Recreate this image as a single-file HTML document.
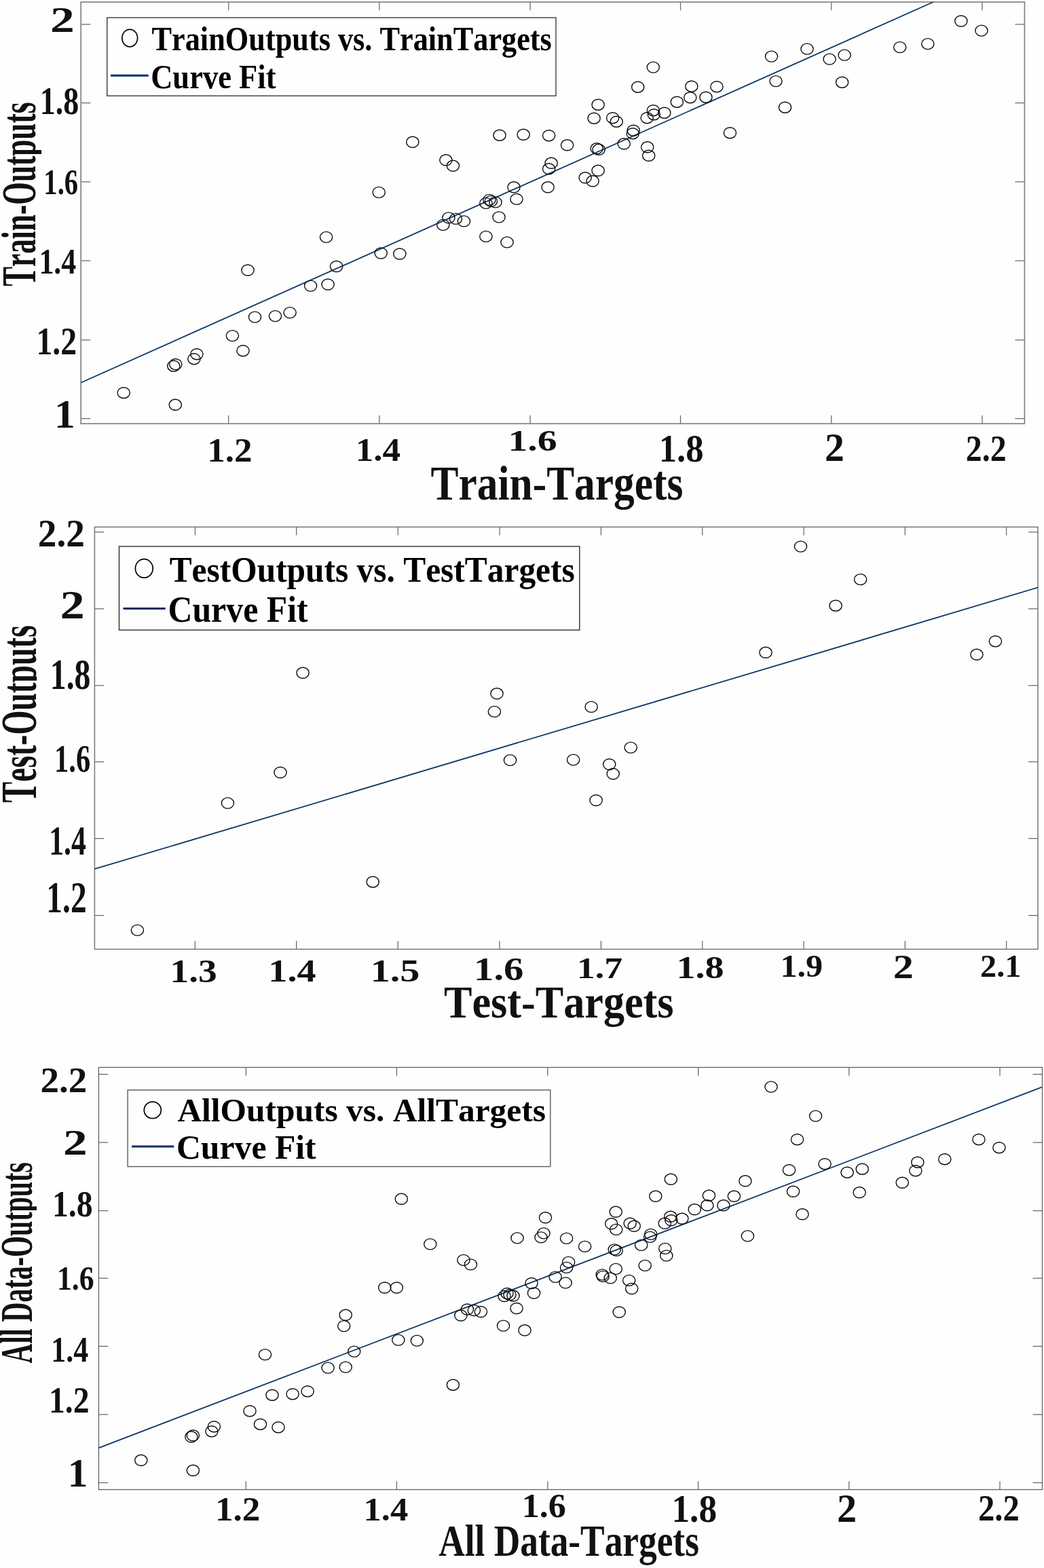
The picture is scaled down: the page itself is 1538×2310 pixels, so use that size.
<!DOCTYPE html>
<html lang="en">
<head>
<meta charset="utf-8">
<title>Regression plots: Train, Test and All Data outputs vs. targets</title>
<style>
html,body{margin:0;padding:0;background:#fefefe;}
body{width:1538px;height:2310px;overflow:hidden;}
svg{display:block;}
text{font-family:"Liberation Serif","Times New Roman",Times,serif;font-weight:bold;font-size:100px;fill:#111;font-kerning:none;font-variant-ligatures:none;}
.ax{fill:none;stroke:#6e6e6e;stroke-width:1.5;}
.tk{fill:none;stroke:#686868;stroke-width:1.25;}
.fit{stroke:#0b3766;stroke-width:1.8;}
.pt ellipse{fill:none;stroke:#0c0c0c;stroke-width:1.4;}
.lg{fill:#fefefe;stroke:#262626;stroke-width:1.4;}
.lc{fill:none;stroke:#000;stroke-width:1.7;}
.ll{stroke:#012d5e;stroke-width:3;}
text.k{fill:#000;}
</style>
</head>
<body>
<svg width="1538" height="2310" viewBox="0 0 1538 2310">
<rect x="0" y="0" width="1538" height="2310" fill="#fefefe"/>
<g class="plot">
<path d="M336.7 624.2V612M336.7 3V15.2M558.9 624.2V612M558.9 3V15.2M781 624.2V612M781 3V15.2M1002.5 624.2V612M1002.5 3V15.2M1224.8 624.2V612M1224.8 3V15.2M1447 624.2V612M1447 3V15.2M119.2 35.8H133.2M1509.4 35.8H1495.4M119.2 151.6H133.2M1509.4 151.6H1495.4M119.2 267.8H133.2M1509.4 267.8H1495.4M119.2 384H133.2M1509.4 384H1495.4M119.2 500.8H133.2M1509.4 500.8H1495.4M119.2 616.5H133.2M1509.4 616.5H1495.4" class="tk"/>
<rect x="119.2" y="3" width="1390.2" height="621.2" class="ax" style="stroke:#7c7c7c;stroke-width:1.6"/>
<line x1="119.2" y1="563.8" x2="1374.8" y2="3" class="fit"/>
<g class="pt">
<ellipse cx="607.8" cy="209.3" rx="9.1" ry="8"/>
<ellipse cx="736" cy="199.2" rx="9.1" ry="8"/>
<ellipse cx="771.1" cy="198.3" rx="9.1" ry="8"/>
<ellipse cx="656.9" cy="235.8" rx="9.1" ry="8"/>
<ellipse cx="667.4" cy="244.3" rx="9.1" ry="8"/>
<ellipse cx="558.2" cy="283.4" rx="9.1" ry="8"/>
<ellipse cx="757" cy="275.8" rx="9.1" ry="8"/>
<ellipse cx="761" cy="293.4" rx="9.1" ry="8"/>
<ellipse cx="715.9" cy="299.4" rx="9.1" ry="8"/>
<ellipse cx="720.9" cy="294.4" rx="9.1" ry="8"/>
<ellipse cx="723.4" cy="296.4" rx="9.1" ry="8"/>
<ellipse cx="729.9" cy="297.9" rx="9.1" ry="8"/>
<ellipse cx="735" cy="319.9" rx="9.1" ry="8"/>
<ellipse cx="660.9" cy="320.9" rx="9.1" ry="8"/>
<ellipse cx="671.4" cy="322.4" rx="9.1" ry="8"/>
<ellipse cx="683.4" cy="325.9" rx="9.1" ry="8"/>
<ellipse cx="652.8" cy="331.4" rx="9.1" ry="8"/>
<ellipse cx="715.9" cy="348.4" rx="9.1" ry="8"/>
<ellipse cx="747" cy="356.9" rx="9.1" ry="8"/>
<ellipse cx="480.6" cy="349.4" rx="9.1" ry="8"/>
<ellipse cx="561.2" cy="373" rx="9.1" ry="8"/>
<ellipse cx="588.8" cy="374" rx="9.1" ry="8"/>
<ellipse cx="495.6" cy="392.5" rx="9.1" ry="8"/>
<ellipse cx="365" cy="398" rx="9.1" ry="8"/>
<ellipse cx="457.6" cy="421.1" rx="9.1" ry="8"/>
<ellipse cx="483.1" cy="419" rx="9.1" ry="8"/>
<ellipse cx="375.5" cy="467.1" rx="9.1" ry="8"/>
<ellipse cx="405.5" cy="465.6" rx="9.1" ry="8"/>
<ellipse cx="427.1" cy="460.6" rx="9.1" ry="8"/>
<ellipse cx="342.4" cy="494.6" rx="9.1" ry="8"/>
<ellipse cx="358" cy="516.7" rx="9.1" ry="8"/>
<ellipse cx="289.9" cy="521.7" rx="9.1" ry="8"/>
<ellipse cx="285.9" cy="528.7" rx="9.1" ry="8"/>
<ellipse cx="258.8" cy="536.7" rx="9.1" ry="8"/>
<ellipse cx="255.8" cy="539.2" rx="9.1" ry="8"/>
<ellipse cx="182.2" cy="578.7" rx="9.1" ry="8"/>
<ellipse cx="258.3" cy="596.3" rx="9.1" ry="8"/>
<ellipse cx="808.6" cy="199.7" rx="9.1" ry="8"/>
<ellipse cx="835.6" cy="213.8" rx="9.1" ry="8"/>
<ellipse cx="881.1" cy="154.2" rx="9.1" ry="8"/>
<ellipse cx="875.1" cy="174.2" rx="9.1" ry="8"/>
<ellipse cx="902.7" cy="173.7" rx="9.1" ry="8"/>
<ellipse cx="908.2" cy="179.2" rx="9.1" ry="8"/>
<ellipse cx="962.3" cy="99.1" rx="9.1" ry="8"/>
<ellipse cx="939.7" cy="128.2" rx="9.1" ry="8"/>
<ellipse cx="962.3" cy="162.7" rx="9.1" ry="8"/>
<ellipse cx="953.2" cy="173.7" rx="9.1" ry="8"/>
<ellipse cx="963.3" cy="168.7" rx="9.1" ry="8"/>
<ellipse cx="978.8" cy="166.2" rx="9.1" ry="8"/>
<ellipse cx="997.3" cy="150.2" rx="9.1" ry="8"/>
<ellipse cx="1016.8" cy="143.7" rx="9.1" ry="8"/>
<ellipse cx="1018.8" cy="127.2" rx="9.1" ry="8"/>
<ellipse cx="1039.9" cy="143.2" rx="9.1" ry="8"/>
<ellipse cx="1055.9" cy="127.7" rx="9.1" ry="8"/>
<ellipse cx="933.2" cy="192.2" rx="9.1" ry="8"/>
<ellipse cx="932.2" cy="196.7" rx="9.1" ry="8"/>
<ellipse cx="919.2" cy="211.8" rx="9.1" ry="8"/>
<ellipse cx="953.7" cy="216.8" rx="9.1" ry="8"/>
<ellipse cx="955.7" cy="229.3" rx="9.1" ry="8"/>
<ellipse cx="879.1" cy="218.8" rx="9.1" ry="8"/>
<ellipse cx="882.1" cy="220.3" rx="9.1" ry="8"/>
<ellipse cx="812.1" cy="240.3" rx="9.1" ry="8"/>
<ellipse cx="808.6" cy="248.8" rx="9.1" ry="8"/>
<ellipse cx="881.1" cy="251.3" rx="9.1" ry="8"/>
<ellipse cx="862.1" cy="261.8" rx="9.1" ry="8"/>
<ellipse cx="873.1" cy="266.8" rx="9.1" ry="8"/>
<ellipse cx="807.1" cy="275.8" rx="9.1" ry="8"/>
<ellipse cx="1075.4" cy="195.7" rx="9.1" ry="8"/>
<ellipse cx="1136.5" cy="83.1" rx="9.1" ry="8"/>
<ellipse cx="1143" cy="119.6" rx="9.1" ry="8"/>
<ellipse cx="1156.5" cy="158.2" rx="9.1" ry="8"/>
<ellipse cx="1189" cy="72.1" rx="9.1" ry="8"/>
<ellipse cx="1222.1" cy="87.1" rx="9.1" ry="8"/>
<ellipse cx="1244.1" cy="81.1" rx="9.1" ry="8"/>
<ellipse cx="1240.6" cy="121.2" rx="9.1" ry="8"/>
<ellipse cx="1325.7" cy="69.6" rx="9.1" ry="8"/>
<ellipse cx="1366.8" cy="64.6" rx="9.1" ry="8"/>
<ellipse cx="1415.8" cy="31" rx="9.1" ry="8"/>
<ellipse cx="1445.9" cy="45.1" rx="9.1" ry="8"/>
</g>
<rect x="157.7" y="26" width="661.3" height="115.2" class="lg" style="stroke:#3c3c3c"/>
<ellipse cx="191.2" cy="56.1" rx="11.4" ry="12.8" class="lc"/>
<line x1="163" y1="111.3" x2="218.7" y2="111.3" class="ll"/>
</g>
<g class="plot">
<path d="M287.4 1398.4V1386.2M287.4 776.4V788.6M436.7 1398.4V1386.2M436.7 776.4V788.6M586.2 1398.4V1386.2M586.2 776.4V788.6M736 1398.4V1386.2M736 776.4V788.6M885.4 1398.4V1386.2M885.4 776.4V788.6M1034.7 1398.4V1386.2M1034.7 776.4V788.6M1184.1 1398.4V1386.2M1184.1 776.4V788.6M1333.3 1398.4V1386.2M1333.3 776.4V788.6M1482.6 1398.4V1386.2M1482.6 776.4V788.6M139.4 783.8H153.4M1529 783.8H1515M139.4 896.8H153.4M1529 896.8H1515M139.4 1009.8H153.4M1529 1009.8H1515M139.4 1122.4H153.4M1529 1122.4H1515M139.4 1235.4H153.4M1529 1235.4H1515M139.4 1348.5H153.4M1529 1348.5H1515" class="tk"/>
<rect x="139.4" y="776.4" width="1389.6" height="622" class="ax" style="stroke:#767676;stroke-width:1.5"/>
<line x1="139.4" y1="1280.2" x2="1529" y2="865.5" class="fit"/>
<g class="pt">
<ellipse cx="446.1" cy="991.3" rx="9.1" ry="8"/>
<ellipse cx="732" cy="1021.8" rx="9.1" ry="8"/>
<ellipse cx="728.4" cy="1048.4" rx="9.1" ry="8"/>
<ellipse cx="751.5" cy="1119.9" rx="9.1" ry="8"/>
<ellipse cx="413" cy="1138" rx="9.1" ry="8"/>
<ellipse cx="1179.5" cy="805.1" rx="9.1" ry="8"/>
<ellipse cx="1267.6" cy="853.6" rx="9.1" ry="8"/>
<ellipse cx="1231.1" cy="892.2" rx="9.1" ry="8"/>
<ellipse cx="1128" cy="961.3" rx="9.1" ry="8"/>
<ellipse cx="1466.4" cy="944.7" rx="9.1" ry="8"/>
<ellipse cx="1438.9" cy="964.3" rx="9.1" ry="8"/>
<ellipse cx="871.1" cy="1041.4" rx="9.1" ry="8"/>
<ellipse cx="929.2" cy="1101.4" rx="9.1" ry="8"/>
<ellipse cx="844.6" cy="1119.4" rx="9.1" ry="8"/>
<ellipse cx="897.7" cy="1126" rx="9.1" ry="8"/>
<ellipse cx="903.2" cy="1140" rx="9.1" ry="8"/>
<ellipse cx="335.4" cy="1183.1" rx="9.1" ry="8"/>
<ellipse cx="549.2" cy="1299.2" rx="9.1" ry="8"/>
<ellipse cx="202.4" cy="1370.4" rx="9.1" ry="8"/>
<ellipse cx="878.1" cy="1179" rx="9.1" ry="8"/>
</g>
<rect x="175.5" y="805" width="678.3" height="123.2" class="lg" style="stroke:#303030"/>
<ellipse cx="212.3" cy="837.4" rx="12.9" ry="13.7" class="lc"/>
<line x1="181.5" y1="896.6" x2="243.7" y2="896.6" class="ll"/>
</g>
<g class="plot">
<path d="M362.3 2194.5V2182.3M362.3 1572.5V1584.7M584.4 2194.5V2182.3M584.4 1572.5V1584.7M806.8 2194.5V2182.3M806.8 1572.5V1584.7M1028.6 2194.5V2182.3M1028.6 1572.5V1584.7M1250.8 2194.5V2182.3M1250.8 1572.5V1584.7M1473 2194.5V2182.3M1473 1572.5V1584.7M145.4 1582.5H159.4M1535.5 1582.5H1521.5M145.4 1683H159.4M1535.5 1683H1521.5M145.4 1783.5H159.4M1535.5 1783.5H1521.5M145.4 1883.2H159.4M1535.5 1883.2H1521.5M145.4 1983.4H159.4M1535.5 1983.4H1521.5M145.4 2083.9H159.4M1535.5 2083.9H1521.5M145.4 2184.3H159.4M1535.5 2184.3H1521.5" class="tk"/>
<rect x="145.4" y="1572.5" width="1390.1" height="622" class="ax" style="stroke:#626262;stroke-width:1.3"/>
<line x1="145.4" y1="2133.1" x2="1535" y2="1601.5" class="fit"/>
<g class="pt">
<ellipse cx="591.3" cy="1766.3" rx="9.1" ry="8"/>
<ellipse cx="633.8" cy="1832.9" rx="9.1" ry="8"/>
<ellipse cx="762" cy="1823.9" rx="9.1" ry="8"/>
<ellipse cx="682.9" cy="1856.4" rx="9.1" ry="8"/>
<ellipse cx="693.4" cy="1862.9" rx="9.1" ry="8"/>
<ellipse cx="566.7" cy="1897" rx="9.1" ry="8"/>
<ellipse cx="584.3" cy="1897" rx="9.1" ry="8"/>
<ellipse cx="743" cy="1909.5" rx="9.1" ry="8"/>
<ellipse cx="747" cy="1905.5" rx="9.1" ry="8"/>
<ellipse cx="751" cy="1907.5" rx="9.1" ry="8"/>
<ellipse cx="756" cy="1909" rx="9.1" ry="8"/>
<ellipse cx="761" cy="1927.5" rx="9.1" ry="8"/>
<ellipse cx="688.4" cy="1929" rx="9.1" ry="8"/>
<ellipse cx="698.4" cy="1930.5" rx="9.1" ry="8"/>
<ellipse cx="708.4" cy="1932.5" rx="9.1" ry="8"/>
<ellipse cx="509.2" cy="1937.3" rx="9.1" ry="8"/>
<ellipse cx="1136" cy="1601.1" rx="9.1" ry="8"/>
<ellipse cx="1201.6" cy="1644.1" rx="9.1" ry="8"/>
<ellipse cx="1174.5" cy="1678.7" rx="9.1" ry="8"/>
<ellipse cx="1162.5" cy="1723.7" rx="9.1" ry="8"/>
<ellipse cx="1215.1" cy="1714.7" rx="9.1" ry="8"/>
<ellipse cx="1168.5" cy="1755.3" rx="9.1" ry="8"/>
<ellipse cx="1182" cy="1788.8" rx="9.1" ry="8"/>
<ellipse cx="1248.1" cy="1727.2" rx="9.1" ry="8"/>
<ellipse cx="1270.2" cy="1722.2" rx="9.1" ry="8"/>
<ellipse cx="1266.1" cy="1756.8" rx="9.1" ry="8"/>
<ellipse cx="1329.2" cy="1742.3" rx="9.1" ry="8"/>
<ellipse cx="1351.8" cy="1712.2" rx="9.1" ry="8"/>
<ellipse cx="1348.8" cy="1724.7" rx="9.1" ry="8"/>
<ellipse cx="1391.8" cy="1707.7" rx="9.1" ry="8"/>
<ellipse cx="1441.9" cy="1678.7" rx="9.1" ry="8"/>
<ellipse cx="1471.9" cy="1690.7" rx="9.1" ry="8"/>
<ellipse cx="1097.9" cy="1739.8" rx="9.1" ry="8"/>
<ellipse cx="1101.4" cy="1820.9" rx="9.1" ry="8"/>
<ellipse cx="1081.4" cy="1762.3" rx="9.1" ry="8"/>
<ellipse cx="1065.9" cy="1775.8" rx="9.1" ry="8"/>
<ellipse cx="1044.4" cy="1761.3" rx="9.1" ry="8"/>
<ellipse cx="1041.9" cy="1775.8" rx="9.1" ry="8"/>
<ellipse cx="1023.3" cy="1781.8" rx="9.1" ry="8"/>
<ellipse cx="1004.8" cy="1795.3" rx="9.1" ry="8"/>
<ellipse cx="988.3" cy="1737.3" rx="9.1" ry="8"/>
<ellipse cx="965.8" cy="1762.3" rx="9.1" ry="8"/>
<ellipse cx="987.8" cy="1792.3" rx="9.1" ry="8"/>
<ellipse cx="988.8" cy="1797.8" rx="9.1" ry="8"/>
<ellipse cx="979.3" cy="1802.3" rx="9.1" ry="8"/>
<ellipse cx="907.2" cy="1785.3" rx="9.1" ry="8"/>
<ellipse cx="900.7" cy="1802.8" rx="9.1" ry="8"/>
<ellipse cx="907.7" cy="1811.4" rx="9.1" ry="8"/>
<ellipse cx="928.2" cy="1802.3" rx="9.1" ry="8"/>
<ellipse cx="934.2" cy="1806.3" rx="9.1" ry="8"/>
<ellipse cx="803.5" cy="1793.8" rx="9.1" ry="8"/>
<ellipse cx="801" cy="1816.9" rx="9.1" ry="8"/>
<ellipse cx="797" cy="1822.9" rx="9.1" ry="8"/>
<ellipse cx="834.6" cy="1824.4" rx="9.1" ry="8"/>
<ellipse cx="861.6" cy="1836.4" rx="9.1" ry="8"/>
<ellipse cx="958.7" cy="1818.4" rx="9.1" ry="8"/>
<ellipse cx="957.7" cy="1822.4" rx="9.1" ry="8"/>
<ellipse cx="944.7" cy="1834.4" rx="9.1" ry="8"/>
<ellipse cx="979.8" cy="1839.4" rx="9.1" ry="8"/>
<ellipse cx="981.8" cy="1849.9" rx="9.1" ry="8"/>
<ellipse cx="950.2" cy="1864.4" rx="9.1" ry="8"/>
<ellipse cx="905.2" cy="1840.9" rx="9.1" ry="8"/>
<ellipse cx="908.2" cy="1842.4" rx="9.1" ry="8"/>
<ellipse cx="907.2" cy="1869.4" rx="9.1" ry="8"/>
<ellipse cx="837.6" cy="1859.4" rx="9.1" ry="8"/>
<ellipse cx="834.6" cy="1867.4" rx="9.1" ry="8"/>
<ellipse cx="818.1" cy="1881.4" rx="9.1" ry="8"/>
<ellipse cx="833.1" cy="1889.9" rx="9.1" ry="8"/>
<ellipse cx="887.2" cy="1877.9" rx="9.1" ry="8"/>
<ellipse cx="888.2" cy="1880.4" rx="9.1" ry="8"/>
<ellipse cx="899.2" cy="1882.9" rx="9.1" ry="8"/>
<ellipse cx="926.7" cy="1886.4" rx="9.1" ry="8"/>
<ellipse cx="930.7" cy="1898.5" rx="9.1" ry="8"/>
<ellipse cx="783" cy="1890.5" rx="9.1" ry="8"/>
<ellipse cx="786.5" cy="1905" rx="9.1" ry="8"/>
<ellipse cx="912.2" cy="1933" rx="9.1" ry="8"/>
<ellipse cx="506.7" cy="1953.6" rx="9.1" ry="8"/>
<ellipse cx="678.9" cy="1938" rx="9.1" ry="8"/>
<ellipse cx="741.5" cy="1953.1" rx="9.1" ry="8"/>
<ellipse cx="773" cy="1959.8" rx="9.1" ry="8"/>
<ellipse cx="586.8" cy="1974.1" rx="9.1" ry="8"/>
<ellipse cx="614.3" cy="1975.1" rx="9.1" ry="8"/>
<ellipse cx="521.7" cy="1991.1" rx="9.1" ry="8"/>
<ellipse cx="390.5" cy="1995.6" rx="9.1" ry="8"/>
<ellipse cx="483.1" cy="2015.1" rx="9.1" ry="8"/>
<ellipse cx="509.2" cy="2014.1" rx="9.1" ry="8"/>
<ellipse cx="667.4" cy="2040.2" rx="9.1" ry="8"/>
<ellipse cx="401" cy="2055.2" rx="9.1" ry="8"/>
<ellipse cx="431.1" cy="2053.7" rx="9.1" ry="8"/>
<ellipse cx="453.1" cy="2049.7" rx="9.1" ry="8"/>
<ellipse cx="368" cy="2078.7" rx="9.1" ry="8"/>
<ellipse cx="383.5" cy="2098.2" rx="9.1" ry="8"/>
<ellipse cx="410" cy="2102.7" rx="9.1" ry="8"/>
<ellipse cx="315.4" cy="2101.7" rx="9.1" ry="8"/>
<ellipse cx="311.9" cy="2108.7" rx="9.1" ry="8"/>
<ellipse cx="284.4" cy="2114.8" rx="9.1" ry="8"/>
<ellipse cx="281.9" cy="2116.8" rx="9.1" ry="8"/>
<ellipse cx="207.8" cy="2151.3" rx="9.1" ry="8"/>
<ellipse cx="284.4" cy="2166.3" rx="9.1" ry="8"/>
</g>
<rect x="188.1" y="1605.8" width="622.7" height="112.8" class="lg" style="stroke:#5a5a5a"/>
<ellipse cx="224.8" cy="1635.4" rx="12.5" ry="12.3" class="lc"/>
<line x1="194.1" y1="1689.1" x2="256.2" y2="1689.1" class="ll"/>
</g>
<g class="tx">
<text transform="matrix(0.7157 0 0 0.5313 74.0584 46.8)">2</text>
<text transform="matrix(0.4598 0 0 0.575 58.7218 167.7375)">1.8</text>
<text transform="matrix(0.4061 0 0 0.5299 64.3509 285.6052)">1.6</text>
<text transform="matrix(0.4399 0 0 0.5363 57.3807 403.4956)">1.4</text>
<text transform="matrix(0.4772 0 0 0.5638 53.4827 521.9542)">1.2</text>
<text transform="matrix(0.6177 0 0 0.5909 80.0585 629.8)">1</text>
<text transform="matrix(0.5313 0 0 0.5151 305.2499 679.8273)">1.2</text>
<text transform="matrix(0.531 0 0 0.4919 523.6518 679.1622)">1.4</text>
<text transform="matrix(0.5781 0 0 0.4531 748.4754 663.7203)">1.6</text>
<text transform="matrix(0.5266 0 0 0.5691 970.7873 680.2463)">1.8</text>
<text transform="matrix(0.5783 0 0 0.5962 1214.9422 679.3)">2</text>
<text transform="matrix(0.4781 0 0 0.5535 1422.868 679.0697)">2.2</text>
<text transform="matrix(0.5528 0 0 0.5801 55.7506 805.4299)">2.2</text>
<text transform="matrix(0.7253 0 0 0.5887 88.5175 911.4)">2</text>
<text transform="matrix(0.4774 0 0 0.6412 73.7811 1015.3382)">1.8</text>
<text transform="matrix(0.4246 0 0 0.5638 80.1035 1136.8542)">1.6</text>
<text transform="matrix(0.4373 0 0 0.6089 72.2015 1258.5867)">1.4</text>
<text transform="matrix(0.4745 0 0 0.645 68.304 1343.5325)">1.2</text>
<text transform="matrix(0.5542 0 0 0.4856 250.5665 1447.1716)">1.3</text>
<text transform="matrix(0.5631 0 0 0.4622 395.295 1445.5067)">1.4</text>
<text transform="matrix(0.5819 0 0 0.4726 545.6448 1446.1911)">1.5</text>
<text transform="matrix(0.5868 0 0 0.4782 698.1053 1444.1827)">1.6</text>
<text transform="matrix(0.5389 0 0 0.4356 849.7891 1441.2467)">1.7</text>
<text transform="matrix(0.56 0 0 0.4588 996.62 1440.5118)">1.8</text>
<text transform="matrix(0.5022 0 0 0.4605 1149.3824 1439.2092)">1.9</text>
<text transform="matrix(0.6024 0 0 0.5087 1315.7398 1441.2)">2</text>
<text transform="matrix(0.4823 0 0 0.4605 1444.0504 1439.2092)">2.1</text>
<text transform="matrix(0.5502 0 0 0.5196 59.5616 1609.2207)">2.2</text>
<text transform="matrix(0.7133 0 0 0.5177 92.9687 1701.2)">2</text>
<text transform="matrix(0.4774 0 0 0.5515 76.8811 1792.4728)">1.8</text>
<text transform="matrix(0.4377 0 0 0.4974 83.8982 1899.5539)">1.6</text>
<text transform="matrix(0.4399 0 0 0.52 75.2807 2006.42)">1.4</text>
<text transform="matrix(0.4772 0 0 0.5535 71.8827 2081.2697)">1.2</text>
<text transform="matrix(0.5932 0 0 0.5909 99.8544 2189.8)">1</text>
<text transform="matrix(0.5313 0 0 0.5151 316.9499 2240.3273)">1.2</text>
<text transform="matrix(0.5258 0 0 0.4889 535.4935 2239.6667)">1.4</text>
<text transform="matrix(0.5211 0 0 0.5166 768.6316 2235.4251)">1.6</text>
<text transform="matrix(0.5336 0 0 0.5765 989.431 2242.0353)">1.8</text>
<text transform="matrix(0.5831 0 0 0.5962 1232.9217 2242.4)">2</text>
<text transform="matrix(0.4867 0 0 0.5417 1441.0315 2240.2875)">2.2</text>
<text transform="matrix(0.6141 0 0 0.7252 634.5789 736.1)">Train-Targets</text>
<text transform="matrix(0.6222 0 0 0.6794 653.9668 1499.4)">Test-Targets</text>
<text transform="matrix(0.5336 0 0 0.65 646.1664 2292.3)">All Data-Targets</text>
<text transform="matrix(0.443 0 0 0.5038 223.5355 74.2)" class="k">TrainOutputs vs. TrainTargets</text>
<text transform="matrix(0.4458 0 0 0.5102 222.1709 129.9)" class="k">Curve Fit</text>
<text transform="matrix(0.4943 0 0 0.5374 249.6585 856.9)" class="k">TestOutputs vs. TestTargets</text>
<text transform="matrix(0.4985 0 0 0.5389 247.4075 915.6)" class="k">Curve Fit</text>
<text transform="matrix(0.4945 0 0 0.4909 261.4055 1652.4)" class="k">AllOutputs vs. AllTargets</text>
<text transform="matrix(0.4973 0 0 0.5026 259.9137 1706.9)" class="k">Curve Fit</text>
<clipPath id="yc0"><rect x="0" y="131.4" width="61" height="309.8"/></clipPath>
<g clip-path="url(#yc0)"><text transform="matrix(0 -0.4324 0.7176 0 51.6 421.8485)">Train-Outputs</text></g>
<clipPath id="yc1"><rect x="0" y="902.2" width="54.2" height="299.6"/></clipPath>
<g clip-path="url(#yc1)"><text transform="matrix(0 -0.4612 0.7298 0 53.1 1182.4918)">Test-Outputs</text></g>
<clipPath id="yc2"><rect x="0" y="1693" width="54" height="335"/></clipPath>
<g clip-path="url(#yc2)"><text transform="matrix(0 -0.3995 0.6758 0 47.4 2008.3995)">All Data-Outputs</text></g>
</g>
</svg>
</body>
</html>
